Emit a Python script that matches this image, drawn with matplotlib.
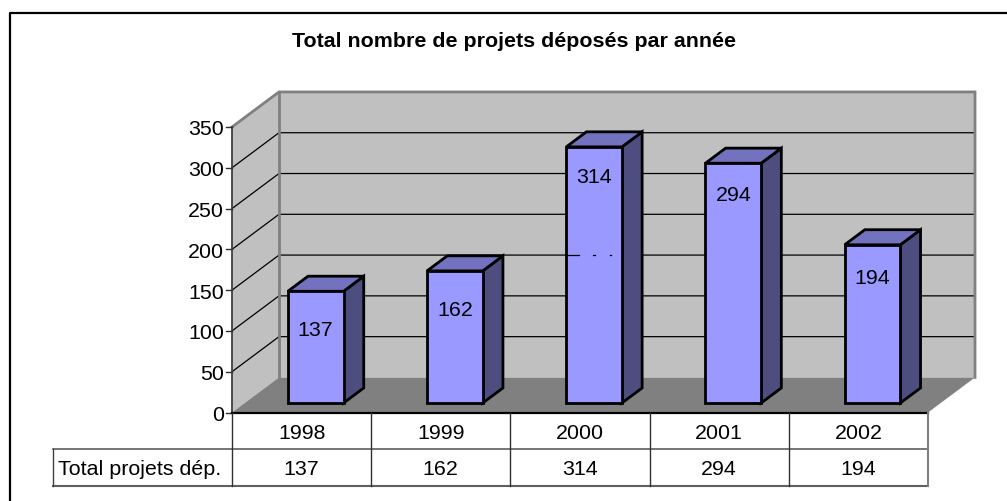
import matplotlib
matplotlib.use("Agg")
import matplotlib.pyplot as plt
from matplotlib.patches import Polygon

plt.rcParams['font.family'] = ['Liberation Sans', 'DejaVu Sans']

# Data
years = ["1998", "1999", "2000", "2001", "2002"]
totals = [137, 162, 314, 294, 194]
y_ticks = [0, 50, 100, 150, 200, 250, 300, 350]
row_label = "Total projets dép."
title = "Total nombre de projets déposés par année"

# Figure size and the front plane of the chart, in pixels
W, H = 1007, 502
left_px, right_px = 232, 928
base_px, top_px = 413.5, 128
cat_px = (right_px - left_px) / len(years)

# 3D look, in data units
depth_x = 47 / cat_px
depth_y = 35 / 0.8143
bar_w = 0.4
bar_gap = 0.31
bar_start = 0.27  # how far into the floor depth the bars begin
bar_depth = 0.43
# label drop below the top of each bar (in axis units)
label_drop = [45, 45, 34, 36, 38]
text_size = 15.4

wall = "#C0C0C0"
floor = "#808080"
front = "#9999FF"
top_c = "#7272BF"
side_c = "#4D4D80"

fig = plt.figure(figsize=(W / 100, H / 100), dpi=100, facecolor="white")
ax = fig.add_axes([left_px / W, 1 - base_px / H, (right_px - left_px) / W, (base_px - top_px) / H])
ax.set_xlim(0, len(years))
ax.set_ylim(0, 350)
ax.axis("off")

n = len(years)
ymax = y_ticks[-1]

# walls and floor
ax.add_patch(Polygon([(0, 0), (depth_x, depth_y), (depth_x, ymax + depth_y), (0, ymax)],
                     fc=wall, ec="none", clip_on=False, zorder=1))
ax.add_patch(Polygon([(depth_x, depth_y), (n + depth_x, depth_y), (n + depth_x, ymax + depth_y), (depth_x, ymax + depth_y)],
                     fc=wall, ec="none", clip_on=False, zorder=1))
ax.add_patch(Polygon([(0, 0), (n, 0), (n + depth_x, depth_y), (depth_x, depth_y)],
                     fc=floor, ec="none", clip_on=False, zorder=2))

# gridlines
for v in y_ticks[1:-1]:
    ax.plot([0, depth_x, n + depth_x], [v, v + depth_y, v + depth_y], color="black", lw=0.9,
            clip_on=False, zorder=2)

# wall outline
ax.plot([0, depth_x, n + depth_x, n + depth_x], [ymax, ymax + depth_y, ymax + depth_y, depth_y],
        color=floor, lw=2, clip_on=False, zorder=3, solid_joinstyle="miter")
ax.plot([depth_x, depth_x], [depth_y, ymax + depth_y], color=floor, lw=2, clip_on=False, zorder=3)
ax.plot([0, 0], [0, ymax], color="#404040", lw=1.3, clip_on=False, zorder=3)

# y axis ticks
for v in y_ticks:
    ax.plot([-6 / cat_px, 0], [v, v], color="#303030", lw=1, clip_on=False, zorder=3)
    ax.text(-8 / cat_px, v, str(v), ha="right", va="center_baseline", fontsize=text_size, color="black")

# bars
for i, val in enumerate(totals):
    x0 = i + bar_gap + bar_start * depth_x
    y0 = bar_start * depth_y
    x1 = x0 + bar_w
    dx = bar_depth * depth_x
    dy = bar_depth * depth_y
    y1 = y0 + val
    style = dict(ec="black", lw=2, joinstyle="miter", clip_on=False, zorder=5)
    ax.add_patch(Polygon([(x1, y0), (x1 + dx, y0 + dy), (x1 + dx, y1 + dy), (x1, y1)], fc=side_c, **style))
    ax.add_patch(Polygon([(x0, y1), (x1, y1), (x1 + dx, y1 + dy), (x0 + dx, y1 + dy)], fc=top_c, **style))
    ax.add_patch(Polygon([(x0, y0), (x1, y0), (x1, y1), (x0, y1)], fc=front, **style))
    ax.text((x0 + x1) / 2, y1 - label_drop[i], str(val), ha="center", va="center_baseline",
            fontsize=text_size, color="black", zorder=6)

# bits of the 150 gridline that show through the 2000 bar
for xa, xb in [(2.40, 2.49), (2.595, 2.605), (2.715, 2.725)]:
    ax.plot([xa, xb], [150 + depth_y, 150 + depth_y], color="black", lw=0.9, clip_on=False, zorder=6)

# data table under the chart
row_h = 36.8 / 0.8143
label_x = -(left_px - 53) / cat_px
bottom = -2 * row_h
ax.plot([0, n], [0, 0], color="black", lw=1.6, clip_on=False, zorder=4)
ax.plot([label_x, n], [-row_h, -row_h], color="#505050", lw=1.1, clip_on=False, zorder=4)
ax.plot([label_x, n], [bottom, bottom], color="#606060", lw=1.5, clip_on=False, zorder=4)
ax.plot([label_x, label_x], [-row_h, bottom], color="#404040", lw=1, clip_on=False, zorder=4)
for i in range(n + 1):
    ax.plot([i, i], [0, bottom], color=floor if i == n else "#303030", lw=1.5 if i == n else 1,
            clip_on=False, zorder=4)
for i in range(n):
    ax.text(i + 0.5, -row_h / 2 + 1, years[i], ha="center", va="center_baseline", fontsize=text_size, color="black")
    ax.text(i + 0.5, -1.5 * row_h + 1, str(totals[i]), ha="center", va="center_baseline", fontsize=text_size, color="black")
ax.text(label_x + 5 / cat_px, -1.5 * row_h + 1, row_label, ha="left", va="center_baseline", fontsize=text_size, color="black")

# outer frame (only top and left fall inside the picture)
fig.add_artist(plt.Line2D([9.5 / W, 9.5 / W, 1], [0, 1 - 13.5 / H, 1 - 13.5 / H], color="black", lw=1.6))

fig.text(514 / W, 1 - 41.5 / H, title, ha="center", va="center", fontsize=15.4, fontweight="bold", color="black")

fig.savefig("out.png", dpi=100)
